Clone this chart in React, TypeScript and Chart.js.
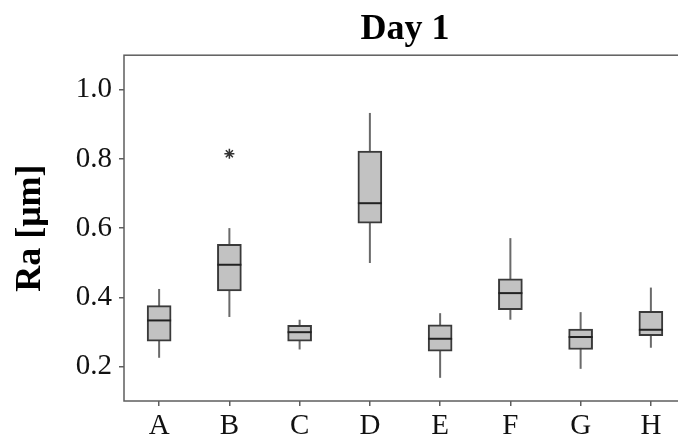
import React, { useEffect, useRef } from 'react';
import { Chart, registerables } from 'chart.js';

Chart.register(...registerables);

const categories = ['A', 'B', 'C', 'D', 'E', 'F', 'G', 'H'];
const whiskerLow = [0.225, 0.343, 0.249, 0.499, 0.167, 0.335, 0.193, 0.254];
const q1 = [0.273, 0.418, 0.273, 0.614, 0.244, 0.364, 0.249, 0.289];
const median = [0.333, 0.494, 0.299, 0.672, 0.28, 0.412, 0.285, 0.306];
const q3 = [0.376, 0.553, 0.319, 0.823, 0.32, 0.453, 0.308, 0.359];
const whiskerHigh = [0.424, 0.6, 0.335, 0.933, 0.354, 0.571, 0.357, 0.428];
const outlierCategories = ['B'];
const outlierValues = [0.815];
const yTickValues = [0.2, 0.4, 0.6, 0.8, 1.0];

const SERIF = '"Liberation Serif", "Times New Roman", serif';

const boxExtras = {
  id: 'boxExtras',
  beforeDatasetsDraw(chart: any) {
    const { ctx } = chart;
    const x = chart.scales.x;
    const y = chart.scales.y;
    ctx.save();
    ctx.strokeStyle = '#6a6a6a';
    ctx.lineWidth = 2;
    categories.forEach((_, i) => {
      const px = x.getPixelForValue(i);
      ctx.beginPath();
      ctx.moveTo(px, y.getPixelForValue(whiskerLow[i]));
      ctx.lineTo(px, y.getPixelForValue(whiskerHigh[i]));
      ctx.stroke();
    });
    ctx.restore();
  },
  afterDatasetsDraw(chart: any) {
    const { ctx } = chart;
    const y = chart.scales.y;
    const meta = chart.getDatasetMeta(0);
    ctx.save();
    ctx.strokeStyle = '#222';
    ctx.lineWidth = 2;
    meta.data.forEach((bar: any, i: number) => {
      const py = y.getPixelForValue(median[i]);
      ctx.beginPath();
      ctx.moveTo(bar.x - bar.width / 2, py);
      ctx.lineTo(bar.x + bar.width / 2, py);
      ctx.stroke();
    });
    ctx.restore();
  },
  afterDraw(chart: any) {
    const { ctx, chartArea } = chart;
    ctx.save();
    ctx.strokeStyle = '#5e5e5e';
    ctx.lineWidth = 1.5;
    ctx.strokeRect(chartArea.left, chartArea.top, chartArea.right - chartArea.left, chartArea.bottom - chartArea.top);
    ctx.restore();
  },
};

export default function App() {
  const ref = useRef<HTMLCanvasElement>(null);

  useEffect(() => {
    document.body.style.margin = '0';
    const canvas = ref.current;
    if (!canvas) return;
    const chart = new Chart(canvas, {
      type: 'bar',
      data: {
        labels: categories,
        datasets: [
          {
            type: 'bar',
            data: categories.map((_, i) => [q1[i], q3[i]]) as any,
            backgroundColor: '#c2c2c2',
            borderColor: '#3a3a3a',
            borderWidth: 2,
            borderSkipped: false,
            barThickness: 24,
          },
          {
            type: 'scatter',
            data: outlierCategories.map((c, i) => ({ x: c, y: outlierValues[i] })) as any,
            pointStyle: 'star',
            radius: 5,
            borderColor: '#333',
            borderWidth: 1.5,
            backgroundColor: '#333',
          } as any,
        ],
      },
      options: {
        animation: false,
        responsive: false,
        devicePixelRatio: 1,
        layout: { padding: { left: 0, right: 34, top: 0, bottom: 0 } },
        plugins: {
          legend: { display: false },
          tooltip: { enabled: false },
          title: {
            display: true,
            text: 'Day 1',
            fullSize: false,
            color: '#000',
            font: { family: SERIF, size: 36, weight: 'bold', lineHeight: 1.2 },
            padding: { top: 8, bottom: 4 },
          },
        },
        scales: {
          x: {
            type: 'category',
            offset: true,
            border: { display: false },
            grid: { display: true, drawOnChartArea: false, drawTicks: true, tickLength: 5, color: '#5e5e5e', lineWidth: 1.5, offset: false },
            ticks: { color: '#111', font: { family: SERIF, size: 29 }, padding: 3, maxRotation: 0 },
            afterFit(scale: any) {
              scale.height = 40;
            },
          },
          y: {
            type: 'linear',
            min: 0.1,
            max: 1.1,
            border: { display: false },
            grid: { display: true, drawOnChartArea: false, drawTicks: true, tickLength: 5, color: '#5e5e5e', lineWidth: 1.5 },
            afterBuildTicks(scale: any) {
              scale.ticks = yTickValues.map((v) => ({ value: v }));
            },
            ticks: {
              color: '#111',
              font: { family: SERIF, size: 29 },
              padding: 7,
              callback: (v: any) => Number(v).toFixed(1),
            },
            title: {
              display: true,
              text: 'Ra [μm]',
              color: '#000',
              font: { family: SERIF, size: 36, weight: 'bold', lineHeight: 1.2 },
              padding: { top: 9, bottom: 0 },
            },
            afterFit(scale: any) {
              scale.width = 124;
            },
          },
        },
      },
      plugins: [boxExtras],
    });
    return () => chart.destroy();
  }, []);

  return (
    <div style={{ width: 678, height: 441, overflow: 'hidden', position: 'relative', background: '#fff' }}>
      <canvas ref={ref} width={720} height={441} style={{ position: 'absolute', left: 0, top: 0 }} />
    </div>
  );
}
